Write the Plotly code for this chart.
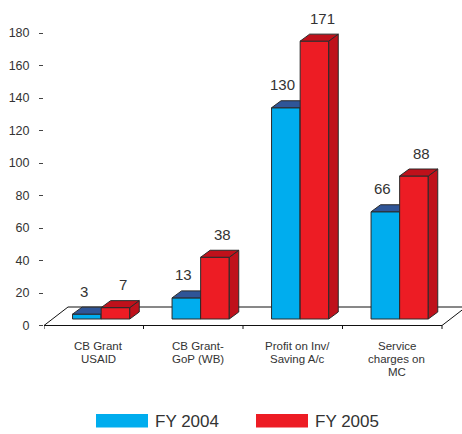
import plotly.graph_objects as go

# ---- data ----
categories = ["CB Grant\nUSAID", "CB Grant-\nGoP (WB)", "Profit on Inv/\nSaving A/c", "Service\ncharges on\nMC"]
fy2004 = [3, 13, 130, 66]
fy2005 = [7, 38, 171, 88]
series_names = ["FY 2004", "FY 2005"]
y_ticks = [0, 20, 40, 60, 80, 100, 120, 140, 160, 180]

# ---- styling ----
FRONT = ["#00ADEE", "#ED1C24"]
TOP = ["#2F5597", "#BF111B"]
SIDE = ["#1F3F7A", "#BF111B"]
EDGE = "#2a2a2a"
TEXT = "#333333"
FONT = "Arial, Liberation Sans, sans-serif"

# ---- geometry (pixels per axis unit, margins) ----
W, H = 462, 434
ML, MB = 44, 99
PX_X = 99.5           # pixels per category
PX_Y = 1.625          # pixels per value unit
Y_ZERO_PX = 325.5
PLOT_BOTTOM = H - MB
x_range = [-0.5, -0.5 + (W - ML) / PX_X]
y_range = [(Y_ZERO_PX - PLOT_BOTTOM) / PX_Y, Y_ZERO_PX / PX_Y]

FLOOR_DX, FLOOR_DY = 24 / PX_X, 18.5 / PX_Y     # depth of the floor
BAR_SHIFT = 7.4 / PX_X                           # bars sit part-way into the floor
BAR_BASE = 6.5 / PX_Y
BAR_W = 28.6 / PX_X
BAR_DX, BAR_DY = 9.5 / PX_X, 7 / PX_Y            # depth of each bar


def paper_x(p):
    return (p - ML) / (W - ML)


def paper_y(p):
    return (PLOT_BOTTOM - p) / PLOT_BOTTOM


fig = go.Figure()
annotations = []

for s, values in enumerate([fy2004, fy2005]):
    xa, ya = ("x", "y") if s == 0 else ("x2", "y2")
    centers = [i + BAR_SHIFT + (s - 0.5) * BAR_W for i in range(len(values))]
    fig.add_trace(go.Bar(
        x=centers, y=values, base=BAR_BASE, width=BAR_W,
        marker=dict(color=FRONT[s], line=dict(color=EDGE, width=1)),
        xaxis=xa, yaxis=ya, showlegend=False, hoverinfo="skip",
    ))
    tx, ty, sx, sy = [], [], [], []
    for c, v in zip(centers, values):
        x0, x1 = c - BAR_W / 2, c + BAR_W / 2
        top = BAR_BASE + v
        tx += [x0, x1, x1 + BAR_DX, x0 + BAR_DX, x0, None]
        ty += [top, top, top + BAR_DY, top + BAR_DY, top, None]
        sx += [x1, x1 + BAR_DX, x1 + BAR_DX, x1, x1, None]
        sy += [BAR_BASE, BAR_BASE + BAR_DY, top + BAR_DY, top, BAR_BASE, None]
        annotations.append(dict(
            x=c, y=top, xref=xa, yref=ya, text=str(v), showarrow=False,
            xshift=-3 if s == 0 else 8, yshift=23, yanchor="middle",
            font=dict(family=FONT, size=15, color=TEXT),
        ))
    for fx, fy, col in [(sx, sy, SIDE[s]), (tx, ty, TOP[s])]:
        fig.add_trace(go.Scatter(
            x=fx, y=fy, mode="lines", fill="toself", fillcolor=col,
            line=dict(color=EDGE, width=1), xaxis=xa, yaxis=ya,
            showlegend=False, hoverinfo="skip",
        ))

# floor of the chart
n = len(categories)
fx0, fx1 = -0.5, n - 0.5
shapes = [dict(
    type="path", xref="x", yref="y", layer="below",
    path=f"M {fx0},0 L {fx1},0 L {fx1 + FLOOR_DX},{FLOOR_DY} L {fx0 + FLOOR_DX},{FLOOR_DY} Z",
    fillcolor="white", line=dict(color="#111111", width=1),
)]
for k in range(n + 1):
    b = -0.5 + k
    shapes.append(dict(type="line", xref="x", yref="y", x0=b, x1=b, y0=0, y1=-3.5 / PX_Y,
                       line=dict(color="#111111", width=1)))

# category labels, one annotation per line for tight line spacing
for i, label in enumerate(categories):
    for j, line in enumerate(label.split("\n")):
        annotations.append(dict(
            x=i + 4.5 / PX_X, y=paper_y(345.5 + j * 13.2), xref="x", yref="paper",
            text=line, showarrow=False, yanchor="middle",
            font=dict(family=FONT, size=11.5, color=TEXT),
        ))

# legend
for s, name in enumerate(series_names):
    left = 96 + s * 160
    shapes.append(dict(type="rect", xref="paper", yref="paper",
                       x0=paper_x(left), x1=paper_x(left + 52),
                       y0=paper_y(427.5), y1=paper_y(414),
                       fillcolor=FRONT[s], line=dict(width=0)))
    annotations.append(dict(
        x=paper_x(left + 57), y=paper_y(421.5), xref="paper", yref="paper",
        text=name, showarrow=False, xanchor="left", yanchor="middle",
        font=dict(family=FONT, size=17, color=TEXT),
    ))

fig.update_layout(
    width=W, height=H, autosize=False,
    margin=dict(l=ML, r=0, t=0, b=MB),
    paper_bgcolor="white", plot_bgcolor="white",
    barmode="overlay", showlegend=False,
    xaxis=dict(range=x_range, visible=False, fixedrange=True),
    yaxis=dict(range=y_range, tickvals=y_ticks, ticks="outside", ticklen=4,
               tickcolor="#444444", showline=False, showgrid=False, zeroline=False,
               ticklabelstandoff=7, tickfont=dict(family=FONT, size=12.5, color=TEXT),
               fixedrange=True),
    xaxis2=dict(range=x_range, visible=False, overlaying="x", anchor="y2"),
    yaxis2=dict(range=y_range, visible=False, overlaying="y", anchor="x2"),
    shapes=shapes, annotations=annotations,
)

fig.write_html("out.html")
